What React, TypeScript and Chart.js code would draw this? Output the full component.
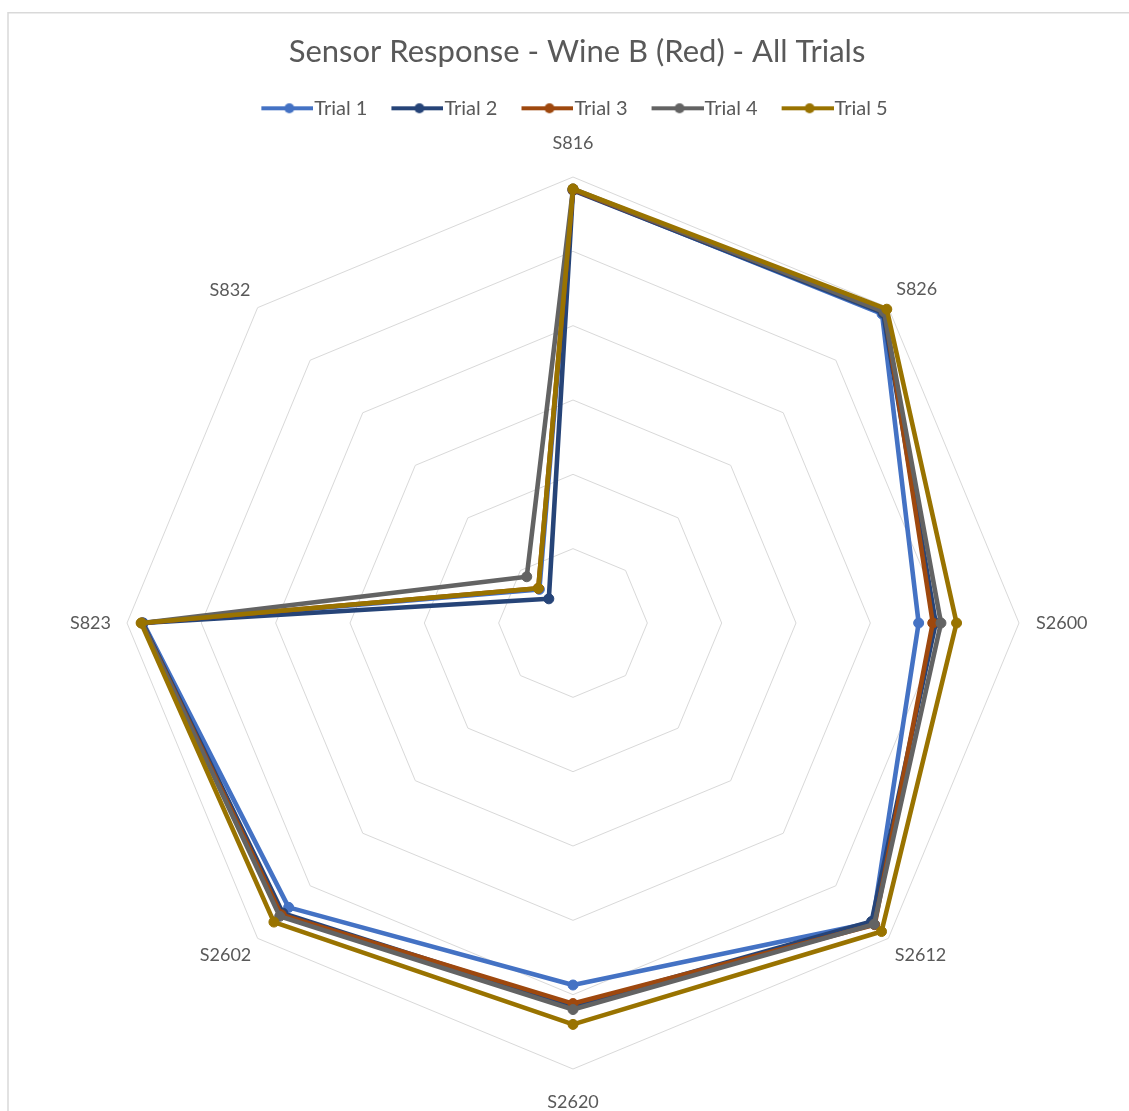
import { useEffect, useRef } from "react";
import { Chart, registerables } from "chart.js";

Chart.register(...registerables);

// Sensor axes, clockwise from the top
const sensors = ["S816", "S826", "S2600", "S2612", "S2620", "S2602", "S823", "S832"];

// Response per sensor for each trial
const trial1 = [5.83, 5.88, 4.65, 5.7, 4.87, 5.41, 5.78, 0.64];
const trial2 = [5.82, 5.9, 4.88, 5.68, 5.15, 5.52, 5.79, 0.46];
const trial3 = [5.83, 5.93, 4.84, 5.74, 5.12, 5.55, 5.8, 0.66];
const trial4 = [5.84, 5.92, 4.95, 5.73, 5.2, 5.58, 5.8, 0.88];
const trial5 = [5.84, 5.97, 5.16, 5.87, 5.4, 5.69, 5.81, 0.66];

const trialNames = ["Trial 1", "Trial 2", "Trial 3", "Trial 4", "Trial 5"];
const trialSeries = [trial1, trial2, trial3, trial4, trial5];
const trialColors = ["#4472C4", "#264478", "#9E480E", "#636363", "#997300"];

// Radial axis range (six rings)
const axisMin = 0;
const axisMax = 6;
const axisStep = 1;

// Distance of each sensor label from the outer ring
const labelPadding = [23, 11, 17, 9, 22, 9, 16, 10];

const TEXT = "#595959";
const FONT = "Lato";

// Legend symbol: a short line with a dot, like the series lines
function legendMarker(color: string): HTMLCanvasElement {
  const c = document.createElement("canvas");
  c.width = 56;
  c.height = 12;
  const g = c.getContext("2d")!;
  g.strokeStyle = color;
  g.lineWidth = 3.8;
  g.beginPath();
  g.moveTo(4, 6);
  g.lineTo(56, 6);
  g.stroke();
  g.fillStyle = color;
  g.beginPath();
  g.arc(32, 6, 5, 0, Math.PI * 2);
  g.fill();
  return c;
}

// Thin frame along the chart's top and left edges
const framePlugin = {
  id: "frame",
  beforeDraw(chart: any) {
    const ctx = chart.ctx;
    ctx.save();
    ctx.fillStyle = "#ffffff";
    ctx.fillRect(0, 0, chart.width, chart.height);
    ctx.strokeStyle = "#d9d9d9";
    ctx.lineWidth = 1.5;
    ctx.strokeRect(8, 12.75, 3000, 3000);
    ctx.restore();
  },
};

export default function App() {
  const canvasRef = useRef<HTMLCanvasElement | null>(null);

  useEffect(() => {
    const canvas = canvasRef.current;
    if (!canvas) return;
    const markers = trialColors.map(legendMarker);

    const chart = new Chart(canvas, {
      type: "radar",
      data: {
        labels: sensors,
        datasets: trialSeries.map((values, i) => ({
          label: trialNames[i],
          data: values,
          borderColor: trialColors[i],
          backgroundColor: trialColors[i],
          borderWidth: 4.6,
          borderJoinStyle: "round" as const,
          pointRadius: 5,
          pointBorderWidth: 1,
          pointBackgroundColor: trialColors[i],
          pointBorderColor: trialColors[i],
          fill: false,
          tension: 0,
          order: trialSeries.length - i,
        })),
      },
      options: {
        responsive: false,
        animation: false,
        events: [],
        layout: { padding: { left: 25, right: 0, top: 0, bottom: 0 } },
        plugins: {
          title: {
            display: true,
            text: "Sensor Response - Wine B (Red) - All Trials",
            color: TEXT,
            font: { family: FONT, size: 31, weight: "normal", lineHeight: 1.1 },
            padding: { top: 35.4, bottom: -0.2 },
          },
          subtitle: {
            display: true,
            text: "",
            weight: 500,
            padding: 0,
            font: { size: 1, lineHeight: "4.1px" },
          },
          legend: {
            display: true,
            position: "top",
            labels: {
              usePointStyle: true,
              pointStyleWidth: 38,
              padding: 29,
              color: TEXT,
              font: { family: FONT, size: 20 },
              generateLabels: () =>
                trialNames.map((name, i) => ({
                  text: name,
                  fillStyle: trialColors[i],
                  strokeStyle: trialColors[i],
                  lineWidth: 0,
                  pointStyle: markers[i],
                  hidden: false,
                  datasetIndex: i,
                  fontColor: TEXT,
                })),
            },
          },
          tooltip: { enabled: false },
        },
        scales: {
          r: {
            min: axisMin,
            max: axisMax,
            ticks: { display: false, stepSize: axisStep },
            grid: { color: "#d9d9d9", lineWidth: 1 },
            angleLines: { display: false },
            pointLabels: {
              color: TEXT,
              font: { family: FONT, size: 18 },
              padding: (ctx: any) => labelPadding[ctx.index],
            },
          },
        },
      },
      plugins: [framePlugin],
    });

    return () => chart.destroy();
  }, []);

  return (
    <div
      style={{
        position: "absolute",
        left: 0,
        top: 0,
        width: 1129,
        height: 1111,
        overflow: "hidden",
        background: "#ffffff",
      }}
    >
      <canvas ref={canvasRef} width={1129} height={1114} style={{ display: "block" }} />
    </div>
  );
}
